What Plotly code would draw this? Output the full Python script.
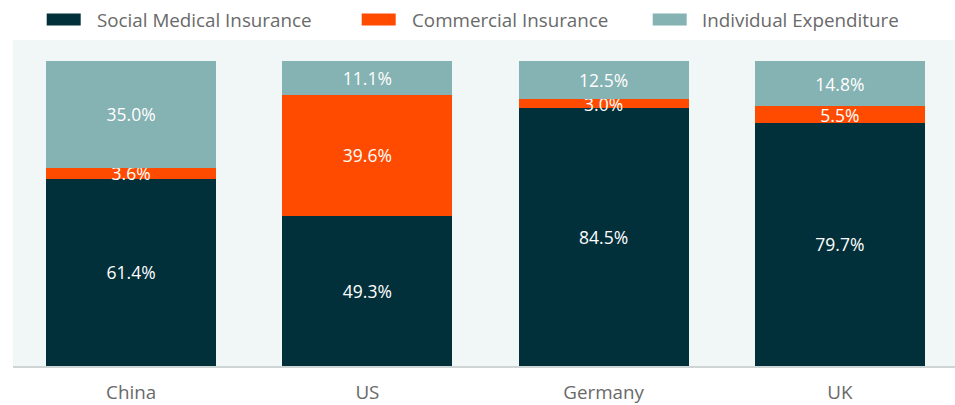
import plotly.graph_objects as go

countries = ["China", "US", "Germany", "UK"]
social = [61.4, 49.3, 84.5, 79.7]
commercial = [3.6, 39.6, 3.0, 5.5]
individual = [35.0, 11.1, 12.5, 14.8]
series_names = ["Social Medical Insurance", "Commercial Insurance", "Individual Expenditure"]
colors = ["#02303a", "#ff4b00", "#85b2b2"]

FONT = "Open Sans"
TXT = "#696969"

# layout geometry (pixels)
W, H = 958, 405
ML, MR, MT, MB = 13, 0, 40, 39
PW, PH = W - ML - MR, H - MT - MB

def px(x):
    return (x - ML) / PW

def py(y):
    return (H - MB - y) / PH

fig = go.Figure()
for name, vals, col in zip(series_names, [social, commercial, individual], colors):
    fig.add_trace(go.Bar(
        x=countries, y=vals, name=name, showlegend=False,
        marker=dict(color=col, line=dict(width=0)),
        text=[f"{v:.1f}%" for v in vals],
        textposition="inside", insidetextanchor="middle", constraintext="none",
        textfont=dict(color="white", size=17.5, family=FONT),
        hoverinfo="skip",
    ))

# custom legend (swatches + labels)
legend_pos = [(46.7, 97), (361.7, 412), (652.7, 702)]
for (sx, tx), name, col in zip(legend_pos, series_names, colors):
    fig.add_shape(type="rect", xref="paper", yref="paper",
                  x0=px(sx), x1=px(sx + 34), y0=py(25.5), y1=py(13.5),
                  fillcolor=col, line=dict(width=0))
    fig.add_annotation(xref="paper", yref="paper", x=px(tx - 2), y=py(19.5),
                       xanchor="left", yanchor="middle", showarrow=False,
                       text=name, font=dict(size=18.8, color=TXT, family=FONT))

fig.update_layout(
    width=W, height=H,
    barmode="stack", bargap=0.28,
    plot_bgcolor="#f1f7f7", paper_bgcolor="white",
    margin=dict(l=ML, r=MR, t=MT, b=MB),
    font=dict(family=FONT, color=TXT),
    showlegend=False,
    uniformtext=dict(minsize=17, mode="show"),
)
fig.update_xaxes(showline=True, linecolor="#cfd4d4", linewidth=1.5,
                 tickfont=dict(size=18.8, color=TXT, family=FONT),
                 ticks="", ticklabelstandoff=9)
fig.update_yaxes(range=[0, 106.9], visible=False, showgrid=False)

fig.write_html("out.html", config={"displayModeBar": False, "staticPlot": True},
               post_script="document.body.style.margin='0';document.body.style.overflow='hidden';")
